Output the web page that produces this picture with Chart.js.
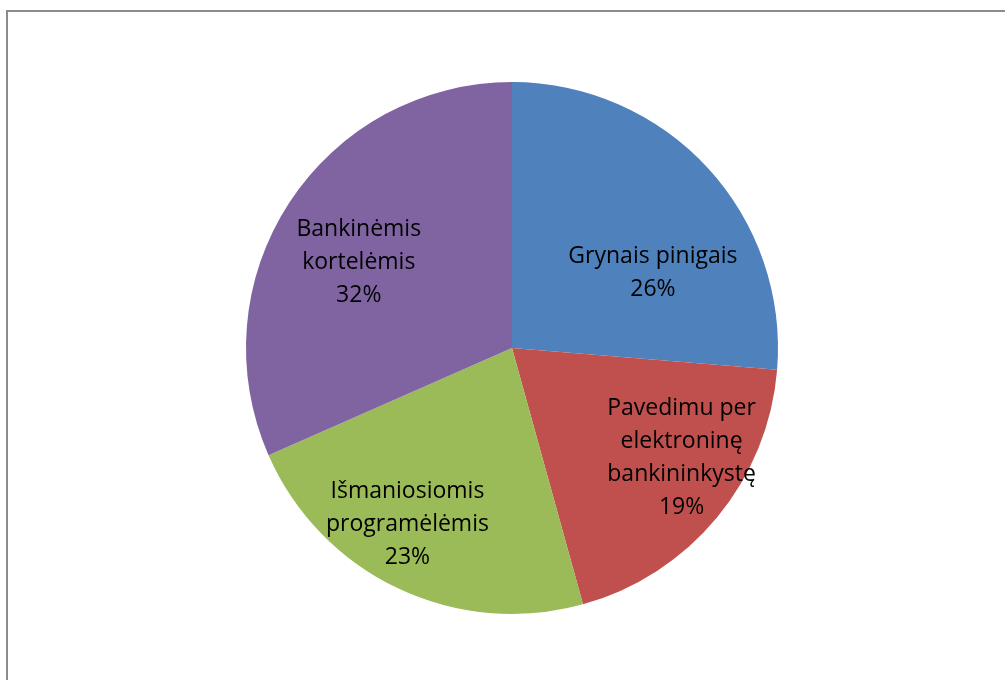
<!DOCTYPE html>
<html>
<head>
<meta charset="utf-8">
<script src="https://cdn.jsdelivr.net/npm/chart.js@4/dist/chart.umd.min.js"></script>
<style>
html,body{margin:0;padding:0;background:#fff;}
#wrap{width:1005px;height:680px;position:relative;}
</style>
</head>
<body>
<div id="wrap"><canvas id="c" width="1005" height="680"></canvas></div>
<script>
const categories = [
  ["Grynais pinigais"],
  ["Pavedimu per", "elektroninę", "bankininkystę"],
  ["Išmaniosiomis", "programėlėmis"],
  ["Bankinėmis", "kortelėmis"]
];
const values = [26.3, 19.4, 22.7, 31.6];
const percentLabels = ["26%", "19%", "23%", "32%"];
const colors = ["#4F81BD", "#C0504D", "#9BBB59", "#8064A2"];

// label placement (angle in degrees clockwise from top, radius fraction)
const labelPlacement = [
  {angle: 62, r: 0.60},
  {angle: 123, r: 0.76},
  {angle: 210.7, r: 0.77},
  {angle: 299.2, r: 0.66}
];

const framePlugin = {
  id: 'frame',
  beforeDraw(chart) {
    const ctx = chart.ctx;
    ctx.save();
    ctx.fillStyle = '#ffffff';
    ctx.fillRect(0, 0, chart.width, chart.height);
    ctx.strokeStyle = '#8c8c8c';
    ctx.lineWidth = 2;
    ctx.beginPath();
    ctx.moveTo(7, chart.height + 5);
    ctx.lineTo(7, 11);
    ctx.lineTo(chart.width + 5, 11);
    ctx.stroke();
    ctx.restore();
  }
};

const labelPlugin = {
  id: 'sliceLabels',
  afterDatasetsDraw(chart) {
    const ctx = chart.ctx;
    const meta = chart.getDatasetMeta(0);
    ctx.save();
    ctx.font = '23px "Open Sans", "Liberation Sans", sans-serif';
    ctx.fillStyle = '#000000';
    ctx.textAlign = 'center';
    ctx.textBaseline = 'middle';
    const lineH = 33;
    meta.data.forEach((arc, i) => {
      const p = arc.getProps(['x', 'y', 'outerRadius'], true);
      const pl = labelPlacement[i];
      const a = pl.angle * Math.PI / 180;
      const cx = p.x + pl.r * p.outerRadius * Math.sin(a);
      const cy = p.y - pl.r * p.outerRadius * Math.cos(a);
      const lines = categories[i].concat([percentLabels[i]]);
      const startY = cy - (lines.length - 1) * lineH / 2;
      lines.forEach((t, k) => ctx.fillText(t, cx, startY + k * lineH));
    });
    ctx.restore();
  }
};

new Chart(document.getElementById('c'), {
  type: 'pie',
  data: {
    labels: categories.map(c => c.join(' ')),
    datasets: [{
      data: values,
      backgroundColor: colors,
      borderWidth: 0
    }]
  },
  options: {
    responsive: false,
    animation: false,
    layout: {padding: {left: 246, right: 227, top: 82, bottom: 66}},
    plugins: {
      legend: {display: false},
      tooltip: {enabled: false}
    }
  },
  plugins: [framePlugin, labelPlugin]
});
</script>
</body>
</html>
